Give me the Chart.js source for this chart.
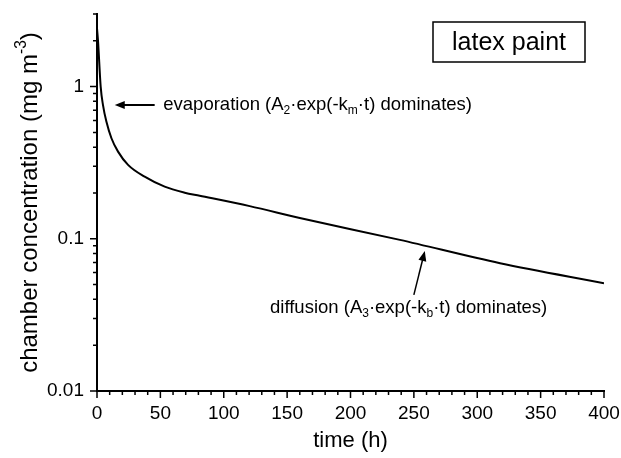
<!DOCTYPE html>
<html>
<head>
<meta charset="utf-8">
<script src="https://cdn.jsdelivr.net/npm/chart.js@4.4.1/dist/chart.umd.min.js"></script>
<style>
  html, body { margin: 0; padding: 0; background: #fff; }
  canvas { display: block; }
</style>
</head>
<body>
<canvas id="latexChart" width="621" height="458"></canvas>
<script>
// values (time in h, concentration in mg m-3)
const times = [0, 0.8, 2.9, 4.7, 7.4, 11.4, 16.6, 24.5, 37.6, 53.4, 69.2, 81, 120.5, 160, 239, 318, 400];
const conc  = [2.42, 2.0, 1.0, 0.758, 0.589, 0.458, 0.374, 0.306, 0.256, 0.220, 0.201, 0.192, 0.164, 0.137, 0.0984, 0.0691, 0.0511];

// axis ticks
const xMajor = [0, 50, 100, 150, 200, 250, 300, 350, 400];
const xMinor = [10, 20, 30, 40, 60, 70, 80, 90, 110, 120, 130, 140, 160, 170, 180, 190,
                210, 220, 230, 240, 260, 270, 280, 290, 310, 320, 330, 340, 360, 370, 380, 390];
const yMajor = [0.01, 0.1, 1];
const yMinor = [0.02, 0.03, 0.04, 0.05, 0.06, 0.07, 0.08, 0.09,
                0.2, 0.3, 0.4, 0.5, 0.6, 0.7, 0.8, 0.9, 2, 3];

const FONT = "'Liberation Sans', Arial, Helvetica, sans-serif";

// text with sub/superscript runs: [text, 'sub'|'sup'|undefined]
function richWidth(ctx, parts, size) {
  let w = 0;
  parts.forEach(p => {
    ctx.font = (p[1] ? size * 0.65 : size) + 'px ' + FONT;
    w += ctx.measureText(p[0]).width;
  });
  return w;
}
function drawRich(ctx, parts, x, y, size) {
  ctx.textBaseline = 'middle';
  ctx.textAlign = 'left';
  parts.forEach(p => {
    let dy = 0;
    if (p[1] === 'sub') dy = size * 0.3;
    if (p[1] === 'sup') dy = -size * 0.35;
    ctx.font = (p[1] ? size * 0.65 : size) + 'px ' + FONT;
    ctx.fillText(p[0], x, y + dy);
    x += ctx.measureText(p[0]).width;
  });
}
function arrow(ctx, x1, y1, x2, y2) {
  const a = Math.atan2(y2 - y1, x2 - x1);
  const len = 10, half = 4;
  ctx.beginPath();
  ctx.moveTo(x1, y1);
  ctx.lineTo(x2 - Math.cos(a) * len * 0.8, y2 - Math.sin(a) * len * 0.8);
  ctx.stroke();
  ctx.beginPath();
  ctx.moveTo(x2, y2);
  ctx.lineTo(x2 - Math.cos(a) * len + Math.sin(a) * half, y2 - Math.sin(a) * len - Math.cos(a) * half);
  ctx.lineTo(x2 - Math.cos(a) * len - Math.sin(a) * half, y2 - Math.sin(a) * len + Math.cos(a) * half);
  ctx.closePath();
  ctx.fill();
}

const decorations = {
  id: 'decorations',
  afterDraw(chart) {
    const ctx = chart.ctx;
    const xs = chart.scales.x, ys = chart.scales.y;
    const area = chart.chartArea;
    ctx.save();
    ctx.strokeStyle = '#000';
    ctx.fillStyle = '#000';
    ctx.lineWidth = 1.5;

    // tick marks, outward
    ctx.beginPath();
    xMajor.forEach(v => { const px = xs.getPixelForValue(v); ctx.moveTo(px, area.bottom); ctx.lineTo(px, area.bottom + 7); });
    xMinor.forEach(v => { const px = xs.getPixelForValue(v); ctx.moveTo(px, area.bottom); ctx.lineTo(px, area.bottom + 4); });
    yMajor.forEach(v => { const py = ys.getPixelForValue(v); ctx.moveTo(area.left, py); ctx.lineTo(area.left - 7, py); });
    yMinor.forEach(v => { const py = ys.getPixelForValue(v); ctx.moveTo(area.left, py); ctx.lineTo(area.left - 4, py); });
    ctx.stroke();

    // y axis title
    const yTitle = [['chamber concentration (mg m'], ['-3', 'sup'], [')']];
    ctx.save();
    ctx.translate(30, (area.top + area.bottom) / 2);
    ctx.rotate(-Math.PI / 2);
    drawRich(ctx, yTitle, -richWidth(ctx, yTitle, 24) / 2, 0, 24);
    ctx.restore();

    // evaporation note
    ctx.lineWidth = 2;
    const ey = ys.getPixelForValue(0.758);
    arrow(ctx, xs.getPixelForValue(45.5), ey, xs.getPixelForValue(14), ey);
    drawRich(ctx, [['evaporation (A'], ['2', 'sub'], ['·exp(-k'], ['m', 'sub'], ['·t) dominates)']],
      xs.getPixelForValue(52.3), ey, 18.5);

    // diffusion note
    ctx.lineWidth = 1.5;
    arrow(ctx, xs.getPixelForValue(250), ys.getPixelForValue(0.0428),
      xs.getPixelForValue(258.6), ys.getPixelForValue(0.0832));
    drawRich(ctx, [['diffusion (A'], ['3', 'sub'], ['·exp(-k'], ['b', 'sub'], ['·t) dominates)']],
      xs.getPixelForValue(136.5), ys.getPixelForValue(0.0352), 18.5);

    // legend box
    const bx = area.right - 171, by = area.top + 8, bw = 152, bh = 40;
    ctx.lineWidth = 1.5;
    ctx.strokeRect(bx, by, bw, bh);
    ctx.font = '25px ' + FONT;
    ctx.textAlign = 'center';
    ctx.textBaseline = 'middle';
    ctx.fillText('latex paint', bx + bw / 2, by + bh / 2 + 1);
    ctx.restore();
  }
};

new Chart(document.getElementById('latexChart'), {
  type: 'line',
  data: {
    datasets: [{
      label: 'latex paint',
      data: times.map((t, i) => ({ x: t, y: conc[i] })),
      borderColor: '#000',
      borderWidth: 2,
      pointRadius: 0,
      cubicInterpolationMode: 'monotone',
      fill: false
    }]
  },
  options: {
    responsive: false,
    animation: false,
    devicePixelRatio: 1,
    layout: { padding: { left: 0, top: 14, right: 17, bottom: 0 } },
    plugins: { legend: { display: false }, tooltip: { enabled: false } },
    scales: {
      x: {
        type: 'linear',
        min: 0,
        max: 400,
        afterBuildTicks: s => { s.ticks = xMajor.map(v => ({ value: v })); },
        afterFit: s => { s.height = 67; s.paddingLeft = 0; s.paddingRight = 0; },
        grid: { display: false, drawTicks: false },
        border: { color: '#000', width: 2 },
        ticks: { color: '#000', font: { family: FONT, size: 19 }, padding: 11, maxRotation: 0, autoSkip: false },
        title: { display: true, text: 'time (h)', color: '#000', font: { family: FONT, size: 22 }, padding: { top: 0, bottom: 4 } }
      },
      y: {
        type: 'logarithmic',
        min: 0.01,
        max: 3,
        afterBuildTicks: s => { s.ticks = yMajor.map(v => ({ value: v })); },
        afterFit: s => { s.width = 97; s.paddingTop = 0; s.paddingBottom = 0; },
        grid: { display: false, drawTicks: false },
        border: { color: '#000', width: 2 },
        ticks: { color: '#000', font: { family: FONT, size: 19 }, padding: 13, callback: v => String(v) }
      }
    }
  },
  plugins: [decorations]
});
</script>
</body>
</html>
